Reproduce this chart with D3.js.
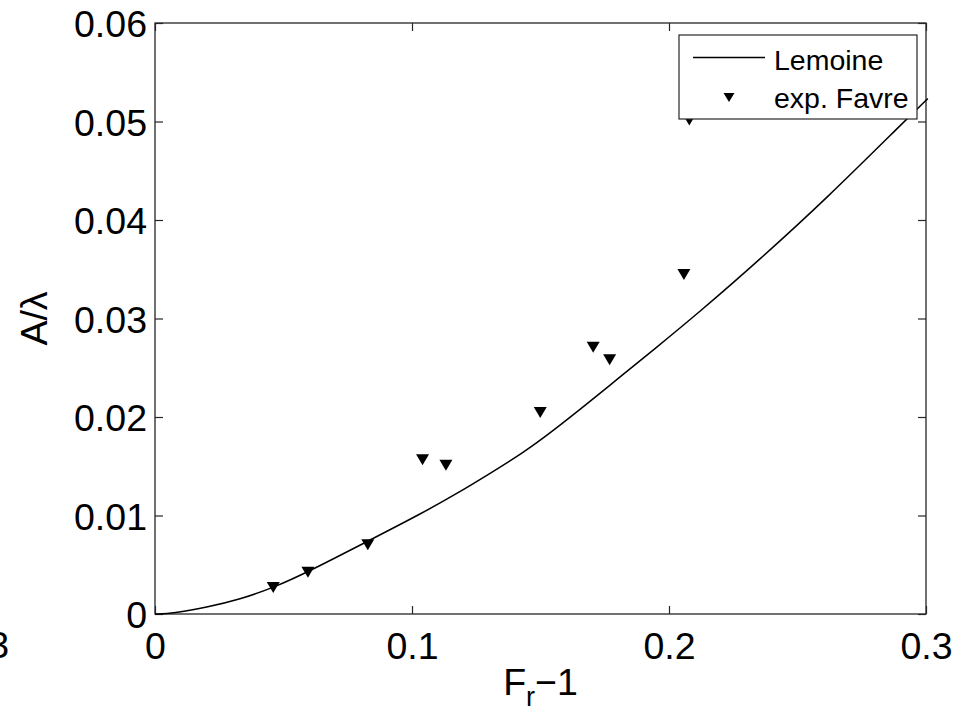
<!DOCTYPE html>
<html>
<head>
<meta charset="utf-8">
<script src="https://cdn.jsdelivr.net/npm/d3@7"></script>
<style>
  html, body { margin: 0; padding: 0; background: #fff; }
  svg { display: block; font-family: "Liberation Sans", Arial, Helvetica, sans-serif; }
</style>
</head>
<body>
<div id="chart"></div>
<script>
// Lemoine curve
const lemoineX = [0, 0.0071, 0.0201, 0.0331, 0.046, 0.059, 0.0824, 0.1044, 0.1174, 0.1304,
  0.1433, 0.1537, 0.17, 0.1803, 0.1939, 0.2121, 0.2354, 0.2607, 0.2925, 0.3007];
const lemoineY = [0, 0.00007, 0.00068, 0.00149, 0.00267, 0.0042, 0.00734, 0.0103, 0.01222, 0.01428,
  0.01638, 0.01835, 0.02173, 0.02393, 0.0268, 0.0307, 0.03601, 0.04203, 0.05025, 0.05232];

// experiments (Favre)
const favreX = [0.0460, 0.0595, 0.0828, 0.1041, 0.1132, 0.1499, 0.1705, 0.1769, 0.2058, 0.2079];
const favreY = [0.00269, 0.00423, 0.00704, 0.01566, 0.01510, 0.02046, 0.02709, 0.02581, 0.03447, 0.05015];

const xTicks = [0, 0.1, 0.2, 0.3];
const yTicks = [0, 0.01, 0.02, 0.03, 0.04, 0.05, 0.06];
const legendLabels = ["Lemoine", "exp. Favre"];

const width = 958, height = 717;
const margin = {left: 155, top: 23, right: 958 - 926, bottom: 717 - 614};
const axisColor = "#262626";

const svg = d3.select("#chart").append("svg")
  .attr("width", width)
  .attr("height", height);

const x = d3.scaleLinear().domain([0, 0.3]).range([margin.left, width - margin.right]);
const y = d3.scaleLinear().domain([0, 0.06]).range([height - margin.bottom, margin.top]);

const fmt = d => d === 0 ? "0" : String(d);

// axes (ticks point inward, like matlab)
function styleAxis(g) {
  g.select(".domain").remove();
  g.selectAll(".tick line").attr("stroke", axisColor).attr("stroke-width", 1.2);
  g.selectAll(".tick text").attr("fill", "#000").style("font-size", "37.5px");
}

svg.append("g")
  .attr("transform", `translate(0,${y(0)})`)
  .call(d3.axisBottom(x).tickValues(xTicks).tickFormat(fmt).tickSizeInner(-8).tickSizeOuter(0).tickPadding(18))
  .call(styleAxis);

svg.append("g")
  .attr("transform", `translate(0,${y(0.06)})`)
  .call(d3.axisTop(x).tickValues(xTicks).tickFormat("").tickSizeInner(-8).tickSizeOuter(0))
  .call(styleAxis);

svg.append("g")
  .attr("transform", `translate(${x(0)},0)`)
  .call(d3.axisLeft(y).tickValues(yTicks).tickFormat(fmt).tickSizeInner(-8).tickSizeOuter(0).tickPadding(8))
  .call(styleAxis)
  .call(g => g.selectAll(".tick text").attr("dy", "0.37em"));

svg.append("g")
  .attr("transform", `translate(${x(0.3)},0)`)
  .call(d3.axisRight(y).tickValues(yTicks).tickFormat("").tickSizeInner(-8).tickSizeOuter(0))
  .call(styleAxis);

svg.append("rect")
  .attr("x", x(0)).attr("y", y(0.06))
  .attr("width", x(0.3) - x(0)).attr("height", y(0) - y(0.06))
  .attr("fill", "none").attr("stroke", axisColor).attr("stroke-width", 1.3);

// curve
const line = d3.line().x(d => x(d[0])).y(d => y(d[1])).curve(d3.curveBasis);
svg.append("path")
  .datum(d3.zip(lemoineX, lemoineY))
  .attr("d", line)
  .attr("fill", "none")
  .attr("stroke", "#000")
  .attr("stroke-width", 1.5);

// downward triangles
const tri = (w, h) => `M${-w / 2},${-h / 2}L${w / 2},${-h / 2}L0,${h / 2}Z`;

svg.append("g").selectAll("path")
  .data(d3.zip(favreX, favreY))
  .join("path")
  .attr("transform", d => `translate(${x(d[0])},${y(d[1])})`)
  .attr("d", tri(13, 11))
  .attr("fill", "#000");

// legend
const leg = svg.append("g");
leg.append("rect")
  .attr("x", 679).attr("y", 35).attr("width", 238).attr("height", 84)
  .attr("fill", "#fff").attr("stroke", axisColor).attr("stroke-width", 1.2);
leg.append("line")
  .attr("x1", 693).attr("x2", 765).attr("y1", 57.5).attr("y2", 57.5)
  .attr("stroke", "#000").attr("stroke-width", 1.5);
leg.append("path")
  .attr("transform", "translate(729,97.5)")
  .attr("d", tri(11, 9))
  .attr("fill", "#000");
leg.selectAll("text")
  .data(legendLabels)
  .join("text")
  .attr("x", 774)
  .attr("y", (d, i) => 70 + i * 37.5)
  .style("font-size", "28.5px")
  .text(d => d);

// axis labels
const xl = svg.append("text")
  .attr("x", (x(0) + x(0.3)) / 2)
  .attr("y", 695)
  .attr("text-anchor", "middle")
  .style("font-size", "37.5px");
xl.append("tspan").text("F");
xl.append("tspan").attr("dy", 11).style("font-size", "27px").text("r");
xl.append("tspan").attr("dy", -11).text("\u22121");

svg.append("text")
  .attr("transform", `translate(47,${(y(0) + y(0.06)) / 2}) rotate(-90)`)
  .attr("text-anchor", "middle")
  .style("font-size", "37.5px")
  .text("A/\u03bb");

// leftover label from the neighbouring panel, cut at the edge (as in the reference)
svg.append("text")
  .attr("x", 9)
  .attr("y", 658)
  .attr("text-anchor", "end")
  .style("font-size", "37.5px")
  .text("0.3");
</script>
</body>
</html>
